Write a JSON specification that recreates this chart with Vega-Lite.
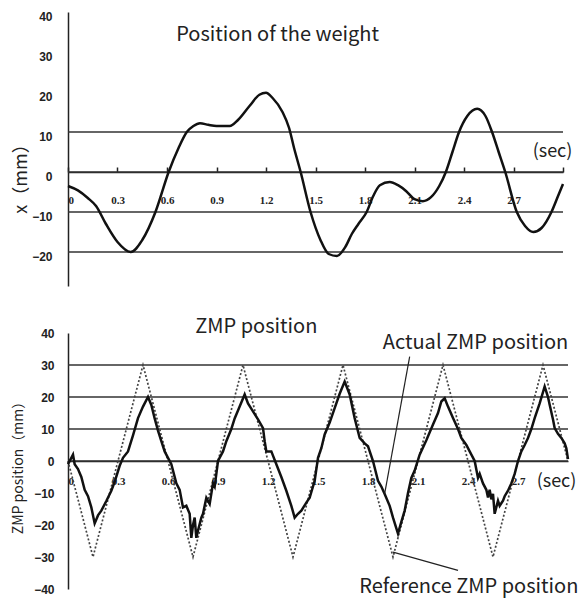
{
  "$schema": "https://vega.github.io/schema/vega-lite/v6.json",
  "background": "white",
  "padding": {"left": 10, "top": 10, "right": 5, "bottom": 5},
  "spacing": 31,
  "config": {
    "view": {"stroke": null},
    "font": "Liberation Sans",
    "axis": {"labelColor": "#222", "titleColor": "#222", "domainColor": "#222", "tickColor": "#222", "grid": false, "labelOverlap": false}
  },
  "datasets": {
    "weight": [
      {"t":0,"v":-3.5},{"t":0.06,"v":-4.6},{"t":0.12,"v":-6.5},{"t":0.17,"v":-8.5},{"t":0.23,"v":-13},
      {"t":0.3,"v":-17.5},{"t":0.38,"v":-20},{"t":0.45,"v":-17},{"t":0.53,"v":-10},{"t":0.61,"v":0},
      {"t":0.67,"v":6},{"t":0.72,"v":10},{"t":0.76,"v":11.5},{"t":0.8,"v":12.2},{"t":0.85,"v":11.8},
      {"t":0.9,"v":11.5},{"t":0.98,"v":11.5},{"t":1.03,"v":13},{"t":1.1,"v":16.5},{"t":1.16,"v":19.3},
      {"t":1.2,"v":19.8},{"t":1.24,"v":18.5},{"t":1.3,"v":15},{"t":1.34,"v":11},{"t":1.37,"v":6},
      {"t":1.41,"v":0},{"t":1.47,"v":-10},{"t":1.53,"v":-17},{"t":1.58,"v":-20.5},{"t":1.63,"v":-21},
      {"t":1.68,"v":-18.8},{"t":1.72,"v":-15.5},{"t":1.76,"v":-13},{"t":1.81,"v":-10},{"t":1.85,"v":-6},
      {"t":1.89,"v":-3.3},{"t":1.95,"v":-2.5},{"t":2.0,"v":-3.3},{"t":2.05,"v":-4.8},{"t":2.1,"v":-6.8},
      {"t":2.15,"v":-7.3},{"t":2.2,"v":-6.3},{"t":2.25,"v":-3.5},{"t":2.29,"v":0},{"t":2.33,"v":5},
      {"t":2.37,"v":10},{"t":2.42,"v":14},{"t":2.48,"v":15.8},{"t":2.53,"v":14},{"t":2.57,"v":10},
      {"t":2.61,"v":5},{"t":2.65,"v":0},{"t":2.72,"v":-10},{"t":2.77,"v":-13.5},{"t":2.82,"v":-15},
      {"t":2.87,"v":-14},{"t":2.93,"v":-10},{"t":2.97,"v":-6},{"t":3.0,"v":-3}
    ],
    "reference": [
      {"t":0,"v":0},{"t":0.15,"v":-30},{"t":0.45,"v":30},{"t":0.75,"v":-30},{"t":1.05,"v":30},
      {"t":1.35,"v":-30},{"t":1.65,"v":30},{"t":1.95,"v":-30},{"t":2.25,"v":30},{"t":2.55,"v":-30},
      {"t":2.85,"v":30},{"t":3.0,"v":0}
    ],
    "actual": [
      {"t":0,"v":-1},{"t":0.02,"v":1},{"t":0.03,"v":2},{"t":0.04,"v":-1},{"t":0.06,"v":-2.5},
      {"t":0.08,"v":-5},{"t":0.1,"v":-9},{"t":0.12,"v":-11},{"t":0.14,"v":-14.5},{"t":0.16,"v":-19.5},
      {"t":0.18,"v":-17},{"t":0.2,"v":-15.5},{"t":0.23,"v":-12.5},{"t":0.26,"v":-9.3},{"t":0.28,"v":-6.5},
      {"t":0.31,"v":-1.5},{"t":0.33,"v":1},{"t":0.36,"v":3},{"t":0.39,"v":8},{"t":0.42,"v":13.4},
      {"t":0.45,"v":17},{"t":0.48,"v":20},{"t":0.5,"v":17.5},{"t":0.52,"v":13.3},{"t":0.54,"v":9.5},
      {"t":0.56,"v":6.2},{"t":0.58,"v":3},{"t":0.6,"v":1},{"t":0.62,"v":-1},{"t":0.63,"v":-3},
      {"t":0.65,"v":-7},{"t":0.67,"v":-9},{"t":0.69,"v":-14.5},{"t":0.71,"v":-14},{"t":0.73,"v":-16.5},
      {"t":0.74,"v":-24},{"t":0.75,"v":-20},{"t":0.76,"v":-17.7},{"t":0.77,"v":-24},{"t":0.78,"v":-21.7},
      {"t":0.8,"v":-17.7},{"t":0.81,"v":-16.5},{"t":0.83,"v":-11.5},{"t":0.85,"v":-13.4},{"t":0.87,"v":-7},
      {"t":0.88,"v":-8},{"t":0.89,"v":-4},{"t":0.9,"v":0},{"t":0.93,"v":3},{"t":0.95,"v":6.2},
      {"t":0.98,"v":10},{"t":1.0,"v":13.3},{"t":1.03,"v":17},{"t":1.06,"v":20.8},{"t":1.08,"v":18},
      {"t":1.11,"v":15.5},{"t":1.14,"v":13},{"t":1.17,"v":10.3},{"t":1.18,"v":6.2},{"t":1.19,"v":3},
      {"t":1.22,"v":3},{"t":1.25,"v":-1},{"t":1.28,"v":-5},{"t":1.31,"v":-9.3},{"t":1.34,"v":-14},
      {"t":1.36,"v":-17.7},{"t":1.38,"v":-16.5},{"t":1.4,"v":-15.5},{"t":1.43,"v":-13},{"t":1.45,"v":-11.5},
      {"t":1.48,"v":-6.2},{"t":1.5,"v":1},{"t":1.52,"v":4},{"t":1.54,"v":8.3},{"t":1.57,"v":12},
      {"t":1.6,"v":16.5},{"t":1.63,"v":21},{"t":1.66,"v":24.8},{"t":1.69,"v":20.8},{"t":1.72,"v":13.4},
      {"t":1.75,"v":7.2},{"t":1.78,"v":5.5},{"t":1.8,"v":4.6},{"t":1.83,"v":0},{"t":1.86,"v":-6.2},
      {"t":1.88,"v":-8},{"t":1.9,"v":-10.3},{"t":1.93,"v":-14},{"t":1.95,"v":-17.7},{"t":1.98,"v":-22.7},
      {"t":2.0,"v":-19},{"t":2.02,"v":-15.5},{"t":2.04,"v":-10},{"t":2.06,"v":-5.3},{"t":2.08,"v":-3},
      {"t":2.11,"v":2},{"t":2.15,"v":6.5},{"t":2.19,"v":11.4},{"t":2.22,"v":15},{"t":2.24,"v":18.6},
      {"t":2.26,"v":19.6},{"t":2.28,"v":17},{"t":2.31,"v":13.4},{"t":2.34,"v":10},{"t":2.36,"v":7.2},
      {"t":2.39,"v":5},{"t":2.41,"v":3},{"t":2.44,"v":0},{"t":2.46,"v":-5.3},{"t":2.47,"v":-4},
      {"t":2.49,"v":-7},{"t":2.51,"v":-9},{"t":2.52,"v":-11.4},{"t":2.53,"v":-9},{"t":2.54,"v":-12},
      {"t":2.55,"v":-10.3},{"t":2.56,"v":-16.5},{"t":2.58,"v":-12.4},{"t":2.59,"v":-14},{"t":2.61,"v":-12.4},
      {"t":2.62,"v":-11},{"t":2.64,"v":-9.3},{"t":2.66,"v":-7},{"t":2.68,"v":-4},{"t":2.7,"v":0},
      {"t":2.72,"v":3},{"t":2.74,"v":5},{"t":2.76,"v":7.2},{"t":2.78,"v":10},{"t":2.8,"v":13.4},
      {"t":2.83,"v":18},{"t":2.86,"v":23.3},{"t":2.88,"v":20},{"t":2.89,"v":17.6},{"t":2.91,"v":13},
      {"t":2.92,"v":10.3},{"t":2.94,"v":8.5},{"t":2.96,"v":7.2},{"t":2.98,"v":5.5},{"t":2.99,"v":4},
      {"t":3.0,"v":0.6}
    ]
  },
  "vconcat": [
    {
      "width": 495,
      "height": 274,
      "layer": [
        {
          "data": {"values": [{"v":10},{"v":0},{"v":-10},{"v":-20}]},
          "mark": {"type": "rule", "color": "#333", "strokeWidth": 1.5},
          "encoding": {"y": {"field": "v", "type": "quantitative", "scale": {"domain": [-28.5, 40], "nice": false, "zero": false},
              "axis": {"values": [-20,-10,0,10,20,30,40], "tickCount": 20, "labelOverlap": false, "ticks": false, "domainWidth": 1.5, "labelPadding": 16, "labelOffset": 4,
                "labelFontSize": 12, "labelFontWeight": "bold",
                "title": "x（mm）", "titleFont": "Noto Sans CJK JP", "titleFontWeight": "normal", "titleFontSize": 18,
                "titleX": -47, "titleY": 162, "titleAlign": "center", "titleBaseline": "middle", "titleAngle": -90}}}
        },
        {
          "data": {"name": "weight"},
          "mark": {"type": "line", "color": "#111", "strokeWidth": 2.5, "interpolate": "monotone"},
          "encoding": {
            "x": {"field": "t", "type": "quantitative", "scale": {"domain": [0, 3], "nice": false},
              "axis": {"orient": "bottom", "offset": -114, "values": [0,0.3,0.6,0.9,1.2,1.5,1.8,2.1,2.4,2.7,3.0], "tickCount": 20, "labelOverlap": false,
                "labelExpr": "datum.value == 0 ? '0' : (datum.value > 2.95 ? '' : format(datum.value, '.1f'))",
                "tickSize": -5, "tickWidth": 1.5, "domainWidth": 1.5, "labelPadding": 27, "labelFontSize": 11, "labelFontWeight": "bold",
                "labelFont": "Liberation Sans Narrow",
                "title": "(sec)", "titleFont": "Noto Sans CJK JP", "titleFontWeight": "normal", "titleFontSize": 18,
                "titleX": 484, "titleY": -21, "titleAlign": "center", "titleBaseline": "middle"}},
            "y": {"field": "v", "type": "quantitative"}
          }
        },
        {
          "data": {"values": [{"t": 1.27, "v": 32.75, "label": "Position of the weight"}]},
          "mark": {"type": "text", "font": "Noto Sans CJK JP", "fontSize": 20, "color": "#222", "baseline": "alphabetic"},
          "encoding": {"x": {"field": "t", "type": "quantitative"}, "y": {"field": "v", "type": "quantitative"}, "text": {"field": "label"}}
        }
      ]
    },
    {
      "width": 500,
      "height": 256,
      "layer": [
        {
          "data": {"values": [{"v":30},{"v":20},{"v":10},{"v":0}]},
          "mark": {"type": "rule", "color": "#333", "strokeWidth": 1.5},
          "encoding": {"y": {"field": "v", "type": "quantitative", "scale": {"domain": [-40, 40], "nice": false, "zero": false},
              "axis": {"values": [-40,-30,-20,-10,0,10,20,30,40], "tickCount": 20, "labelOverlap": false, "ticks": false, "domainWidth": 1.5, "labelPadding": 14,
                "labelFontSize": 12, "labelFontWeight": "bold",
                "title": "ZMP position（mm）", "titleFont": "Noto Sans CJK JP", "titleFontWeight": "normal", "titleFontSize": 14,
                "titleX": -50, "titleY": 131, "titleAlign": "center", "titleBaseline": "middle", "titleAngle": -90}}}
        },
        {
          "data": {"name": "reference"},
          "mark": {"type": "line", "color": "#444", "strokeWidth": 1.7, "strokeDash": [2, 2]},
          "encoding": {
            "x": {"field": "t", "type": "quantitative", "scale": {"domain": [0, 3], "nice": false},
              "axis": {"orient": "bottom", "offset": -128, "values": [0,0.3,0.6,0.9,1.2,1.5,1.8,2.1,2.4,2.7], "tickCount": 20, "labelOverlap": false,
                "labelExpr": "datum.value == 0 ? '0' : format(datum.value, '.1f')",
                "ticks": false, "domainWidth": 1.5, "labelPadding": 14, "labelFontSize": 11, "labelFontWeight": "bold",
                "labelFont": "Liberation Sans Narrow",
                "title": "(sec)", "titleFont": "Noto Sans CJK JP", "titleFontWeight": "normal", "titleFontSize": 18,
                "titleX": 488, "titleY": 20, "titleAlign": "center", "titleBaseline": "middle"}},
            "y": {"field": "v", "type": "quantitative"}
          }
        },
        {
          "data": {"name": "actual"},
          "mark": {"type": "line", "color": "#111", "strokeWidth": 2.5},
          "encoding": {"x": {"field": "t", "type": "quantitative"}, "y": {"field": "v", "type": "quantitative"}}
        },
        {
          "data": {"values": [{"t": 2.05, "v": 32.6, "t2": 1.9, "v2": -10.2}, {"t": 1.95, "v": -28.5, "t2": 2.34, "v2": -34.2}]},
          "mark": {"type": "rule", "color": "#222", "strokeWidth": 1.2},
          "encoding": {"x": {"field": "t", "type": "quantitative"}, "y": {"field": "v", "type": "quantitative"}, "x2": {"field": "t2"}, "y2": {"field": "v2"}}
        },
        {
          "data": {"values": [
            {"t": 1.13, "v": 40, "label": "ZMP position"},
            {"t": 2.445, "v": 35, "label": "Actual ZMP position"},
            {"t": 2.405, "v": -41.25, "label": "Reference ZMP position"}
          ]},
          "mark": {"type": "text", "font": "Noto Sans CJK JP", "fontSize": 20, "color": "#222", "baseline": "alphabetic"},
          "encoding": {"x": {"field": "t", "type": "quantitative"}, "y": {"field": "v", "type": "quantitative"}, "text": {"field": "label"}}
        }
      ]
    }
  ]
}
